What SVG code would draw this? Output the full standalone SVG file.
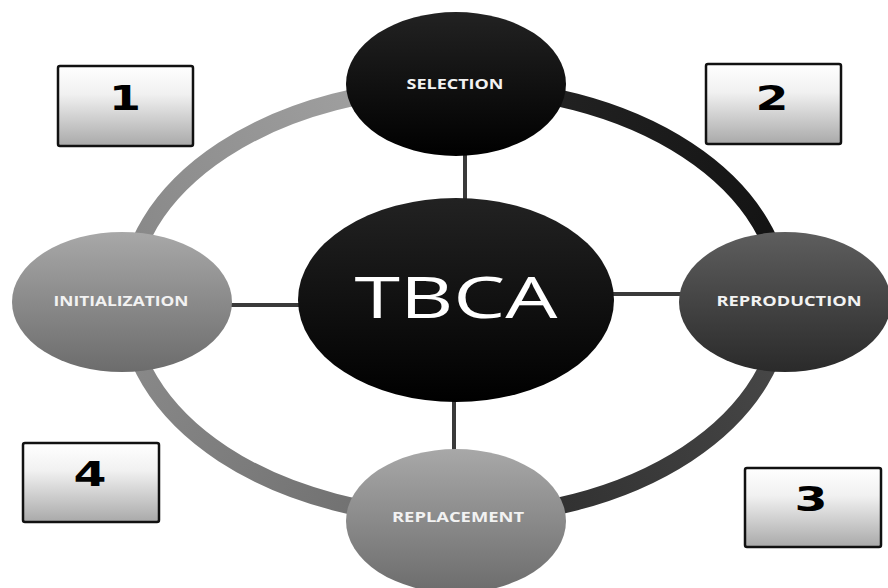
<svg xmlns="http://www.w3.org/2000/svg" width="888" height="588" viewBox="0 0 888 588">
  <defs>
    <linearGradient id="gBox" x1="0" y1="0" x2="0" y2="1">
      <stop offset="0" stop-color="#ffffff"/>
      <stop offset="0.35" stop-color="#f1f1f1"/>
      <stop offset="1" stop-color="#a9a9a9"/>
    </linearGradient>
    <linearGradient id="gBlack" x1="0" y1="0" x2="0" y2="1">
      <stop offset="0" stop-color="#222222"/>
      <stop offset="1" stop-color="#000000"/>
    </linearGradient>
    <linearGradient id="gDark" x1="0" y1="0" x2="0" y2="1">
      <stop offset="0" stop-color="#5e5e5e"/>
      <stop offset="1" stop-color="#2a2a2a"/>
    </linearGradient>
    <linearGradient id="gLight" x1="0" y1="0" x2="0" y2="1">
      <stop offset="0" stop-color="#a8a8a8"/>
      <stop offset="1" stop-color="#6c6c6c"/>
    </linearGradient>
    <linearGradient id="gArcTL" gradientUnits="userSpaceOnUse" x1="127" y1="302" x2="455" y2="87">
      <stop offset="0" stop-color="#858585"/>
      <stop offset="1" stop-color="#a6a6a6"/>
    </linearGradient>
    <linearGradient id="gArcTR" gradientUnits="userSpaceOnUse" x1="455" y1="87" x2="783" y2="302">
      <stop offset="0" stop-color="#262626"/>
      <stop offset="1" stop-color="#111111"/>
    </linearGradient>
    <linearGradient id="gArcBR" gradientUnits="userSpaceOnUse" x1="783" y1="302" x2="455" y2="517">
      <stop offset="0" stop-color="#4a4a4a"/>
      <stop offset="1" stop-color="#2a2a2a"/>
    </linearGradient>
    <linearGradient id="gArcBL" gradientUnits="userSpaceOnUse" x1="455" y1="517" x2="127" y2="302">
      <stop offset="0" stop-color="#6a6a6a"/>
      <stop offset="1" stop-color="#8c8c8c"/>
    </linearGradient>
  </defs>
  <style>
    .arc { fill: none; stroke-width: 17; }
    .spoke { stroke: #3a3a3a; stroke-width: 4; }
    .box { fill: url(#gBox); stroke: #111111; stroke-width: 2.5; }
    .num { font-family: "DejaVu Sans", "Liberation Sans", sans-serif; font-weight: bold; font-size: 34px; fill: #000000; text-anchor: middle; }
    .lbl { font-family: "Open Sans", "Liberation Sans", sans-serif; font-weight: bold; font-size: 14px; fill: #f2f2f2; text-anchor: middle; }
    .title { font-family: "Open Sans", "Liberation Sans", sans-serif; font-size: 56px; fill: #ffffff; text-anchor: middle; }
  </style>

  <!-- outer cycle ring, one arc per stage -->
  <g id="connectors">
    <path class="arc" stroke="url(#gArcTL)" d="M 127 302 A 328 215 0 0 1 455 87"/>
    <path class="arc" stroke="url(#gArcTR)" d="M 455 87 A 328 215 0 0 1 783 302"/>
    <path class="arc" stroke="url(#gArcBR)" d="M 783 302 A 328 215 0 0 1 455 517"/>
    <path class="arc" stroke="url(#gArcBL)" d="M 455 517 A 328 215 0 0 1 127 302"/>
    <!-- spokes to the hub -->
    <line class="spoke" x1="465" y1="150" x2="465" y2="202"/>
    <line class="spoke" x1="454" y1="398" x2="454" y2="455"/>
    <line class="spoke" x1="228" y1="305" x2="302" y2="305"/>
    <line class="spoke" x1="611" y1="294" x2="684" y2="294"/>
  </g>

  <g id="tbca">
    <ellipse cx="456" cy="300" rx="158" ry="102" fill="url(#gBlack)"/>
    <text class="title" x="456" y="318" textLength="203" lengthAdjust="spacingAndGlyphs">TBCA</text>
  </g>

  <g id="selection">
    <ellipse cx="456" cy="84" rx="110" ry="72" fill="url(#gBlack)"/>
    <text class="lbl" x="455" y="89" textLength="97" lengthAdjust="spacingAndGlyphs">SELECTION</text>
  </g>

  <g id="reproduction">
    <ellipse cx="785" cy="302" rx="106" ry="70" fill="url(#gDark)"/>
    <text class="lbl" x="789" y="306" textLength="145" lengthAdjust="spacingAndGlyphs">REPRODUCTION</text>
  </g>

  <g id="replacement">
    <ellipse cx="456" cy="521" rx="110" ry="72" fill="url(#gLight)"/>
    <text class="lbl" x="458" y="522" textLength="132" lengthAdjust="spacingAndGlyphs">REPLACEMENT</text>
  </g>

  <g id="initialization">
    <ellipse cx="122" cy="302" rx="110" ry="70" fill="url(#gLight)"/>
    <text class="lbl" x="121" y="306" textLength="135" lengthAdjust="spacingAndGlyphs">INITIALIZATION</text>
  </g>

  <g id="step1">
    <rect class="box" x="58" y="66" width="135" height="80" rx="2"/>
    <text class="num" x="125" y="110" textLength="32" lengthAdjust="spacingAndGlyphs">1</text>
  </g>
  <g id="step2">
    <rect class="box" x="706" y="64" width="135" height="80" rx="2"/>
    <text class="num" x="772" y="110" textLength="33" lengthAdjust="spacingAndGlyphs">2</text>
  </g>
  <g id="step3">
    <rect class="box" x="745" y="468" width="136" height="79" rx="2"/>
    <text class="num" x="811" y="511" textLength="33" lengthAdjust="spacingAndGlyphs">3</text>
  </g>
  <g id="step4">
    <rect class="box" x="23" y="443" width="136" height="79" rx="2"/>
    <text class="num" x="90" y="486" textLength="33" lengthAdjust="spacingAndGlyphs">4</text>
  </g>
</svg>
